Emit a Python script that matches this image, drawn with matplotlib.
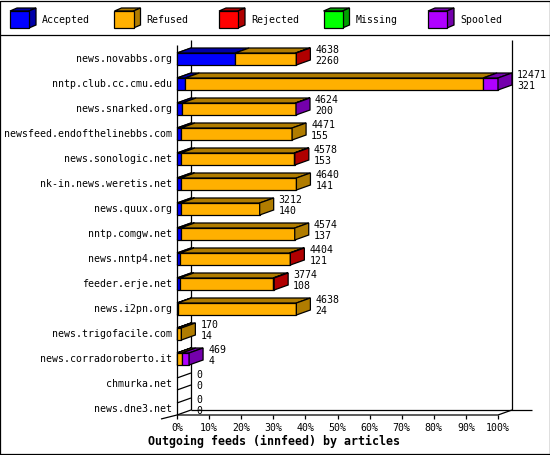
import matplotlib
matplotlib.use('Agg')
import matplotlib.pyplot as plt
from matplotlib.patches import Polygon
from matplotlib.lines import Line2D

# ---------------- data ----------------
hosts = ['news.novabbs.org', 'nntp.club.cc.cmu.edu', 'news.snarked.org',
         'newsfeed.endofthelinebbs.com', 'news.sonologic.net',
         'nk-in.news.weretis.net', 'news.quux.org', 'nntp.comgw.net',
         'news.nntp4.net', 'feeder.erje.net', 'news.i2pn.org',
         'news.trigofacile.com', 'news.corradoroberto.it', 'chmurka.net',
         'news.dne3.net']
offered = [4638, 12471, 4624, 4471, 4578, 4640, 3212, 4574, 4404, 3774, 4638, 170, 469, 0, 0]
accepted = [2260, 321, 200, 155, 153, 141, 140, 137, 121, 108, 24, 14, 4, 0, 0]
refused = [2348, 11570, 4404, 4316, 4400, 4499, 3072, 4437, 4253, 3626, 4614, 156, 180, 0, 0]
rejected = [30, 0, 0, 0, 25, 0, 0, 0, 30, 40, 0, 0, 0, 0, 0]
missing = [0, 0, 0, 0, 0, 0, 0, 0, 0, 0, 0, 0, 0, 0, 0]
spooled = [0, 580, 20, 0, 0, 0, 0, 0, 0, 0, 0, 0, 285, 0, 0]
series_names = ['Accepted', 'Refused', 'Rejected', 'Missing', 'Spooled']
x_ticks = [0, 10, 20, 30, 40, 50, 60, 70, 80, 90, 100]
title = 'Outgoing feeds (innfeed) by articles'

# ---------------- style ----------------
front_col = ['#0000FF', '#FFB000', '#FF0000', '#00FF00', '#B000FF']
dark_col = ['#0000A8', '#B07C00', '#B00000', '#00A000', '#7400AC']
FONT = 'DejaVu Sans Mono'
FS = 7.15
LW = 0.9

W, H, DPI = 550, 455, 100
X0, PPX = 177, 3.21      # pixel of 0 %, pixels per %
Y0, PPY = 59, 25         # pixel of first row centre, pixels per row


def px2x(px):
    return (px - X0) / PPX


def px2y(py):
    return (py - Y0) / PPY


DEPX = 14 / PPX
DEPY = 5 / PPY
HH = 6 / PPY  # half bar height

fig = plt.figure(figsize=(W / DPI, H / DPI), dpi=DPI)
ax = fig.add_axes([0, 0, 1, 1])
ax.set_xlim(px2x(0), px2x(W))
ax.set_ylim(px2y(H), px2y(0))
ax.axis('off')

n = len(hosts)
floor = (n - 1) + HH
vmax = max(offered)


def line(xs, ys, z=1):
    ax.add_line(Line2D(xs, ys, color='black', lw=LW, zorder=z, solid_capstyle='butt'))


# walls / floor
line([0, 0], [px2y(45), floor])
line([DEPX, DEPX], [px2y(40), floor - DEPY])
line([100 + DEPX, 100 + DEPX], [px2y(40), floor - DEPY])
line([px2x(161), 0, 100, 100 + DEPX], [px2y(419), floor, floor, floor - DEPY])
line([DEPX, px2x(532)], [floor - DEPY, floor - DEPY])
for t in x_ticks:
    line([t, t], [floor, floor + 4 / PPY])
    ax.text(t, px2y(428), f'{t}%', ha='center', va='center', family=FONT, fontsize=FS)
ax.text(px2x(274), px2y(441), title, ha='center', va='center', family=FONT,
        fontsize=8.4, fontweight='bold')

# bars
series = [accepted, refused, rejected, missing, spooled]
for i in range(n):
    top = i - HH
    bot = i + HH
    # floor edges of each bar slot on the left wall
    line([0, DEPX], [top, top - DEPY], z=2)
    line([0, DEPX], [bot, bot - DEPY], z=2)
    left = 0.0
    last = None
    for k, s in enumerate(series):
        w = s[i] / vmax * 100
        if s[i] <= 0:
            continue
        ax.barh(i, w, left=left, height=2 * HH, color=front_col[k], edgecolor='black',
                linewidth=LW, zorder=3)
        ax.add_patch(Polygon([(left, top), (left + w, top), (left + w + DEPX, top - DEPY),
                              (left + DEPX, top - DEPY)], closed=True,
                             facecolor=dark_col[k], edgecolor='black', lw=LW, zorder=3))
        left += w
        last = k
    if last is not None:
        ax.add_patch(Polygon([(left, top), (left + DEPX, top - DEPY), (left + DEPX, bot - DEPY),
                              (left, bot)], closed=True, facecolor=dark_col[last],
                             edgecolor='black', lw=LW, zorder=4))
    lx = left + DEPX + 5 / PPX
    ax.text(lx, i - 9 / PPY, str(offered[i]), ha='left', va='center', family=FONT, fontsize=FS)
    ax.text(lx, i + 2 / PPY, str(accepted[i]), ha='left', va='center', family=FONT, fontsize=FS)
    ax.text(px2x(172), i, hosts[i], ha='right', va='center', family=FONT, fontsize=FS)

# legend
for k, name in enumerate(series_names):
    bx = 10 + 104.5 * k
    x1, x2 = px2x(bx), px2x(bx + 19)
    y1, y2 = px2y(11), px2y(28)
    ddx, ddy = 7 / PPX, 3 / PPY
    ax.add_patch(Polygon([(x1, y1), (x2, y1), (x2 + ddx, y1 - ddy), (x1 + ddx, y1 - ddy)],
                         closed=True, facecolor=dark_col[k], edgecolor='black', lw=LW, zorder=5))
    ax.add_patch(Polygon([(x2, y1), (x2 + ddx, y1 - ddy), (x2 + ddx, y2 - ddy), (x2, y2)],
                         closed=True, facecolor=dark_col[k], edgecolor='black', lw=LW, zorder=5))
    ax.add_patch(Polygon([(x1, y1), (x2, y1), (x2, y2), (x1, y2)],
                         closed=True, facecolor=front_col[k], edgecolor='black', lw=LW, zorder=6))
    ax.text(px2x(bx + 32), px2y(20), name, ha='left', va='center', family=FONT, fontsize=FS)

# frame
line([px2x(0.5), px2x(549.5), px2x(549.5), px2x(0.5), px2x(0.5)],
     [px2y(0.5), px2y(0.5), px2y(454), px2y(454), px2y(0.5)], z=7)
line([px2x(0), px2x(550)], [px2y(35), px2y(35)], z=7)

fig.savefig('out.png', dpi=DPI)
